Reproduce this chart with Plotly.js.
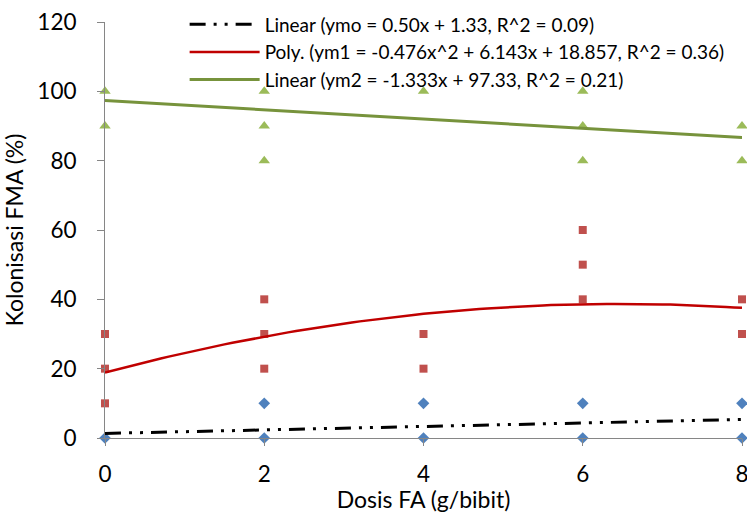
<!DOCTYPE html>
<html>
<head>
<meta charset="utf-8">
<script src="https://cdn.plot.ly/plotly-3.0.1.min.js"></script>
<style>html,body{margin:0;padding:0;background:#fff;}#chart{width:747px;height:513px;}</style>
</head>
<body>
<div id="chart"></div>
<script>
// Observed points (Dosis FA, g/bibit) vs Kolonisasi FMA (%)
const ymoX = [0, 2, 2, 4, 4, 6, 6, 8, 8];
const ymoY = [0, 0, 10, 0, 10, 0, 10, 0, 10];
const ym1X = [0, 0, 0, 2, 2, 2, 4, 4, 6, 6, 6, 8, 8];
const ym1Y = [10, 20, 30, 20, 30, 40, 20, 30, 40, 50, 60, 30, 40];
const ym2X = [0, 0, 2, 2, 2, 4, 6, 6, 6, 8, 8];
const ym2Y = [90, 100, 80, 90, 100, 100, 80, 90, 100, 80, 90];

// Trendline coefficients as printed in the legend (c0 + c1*x + c2*x^2)
const ymoCoef = [1.33, 0.50, 0];
const ym1Coef = [18.857, 6.143, -0.476];
const ym2Coef = [97.33, -1.333, 0];

const xTicks = [0, 2, 4, 6, 8];
const yTicks = [0, 20, 40, 60, 80, 100, 120];

const legendNames = [
  'Linear (ymo = 0.50x + 1.33, R^2 = 0.09)',
  'Poly. (ym1 = -0.476x^2 + 6.143x + 18.857, R^2 = 0.36)',
  'Linear (ym2 = -1.333x + 97.33, R^2 = 0.21)'
];

function trend(coef) {
  const xs = [], ys = [];
  for (let i = 0; i <= 80; i++) {
    const x = i / 10;
    xs.push(x);
    ys.push(coef[0] + coef[1] * x + coef[2] * x * x);
  }
  return {x: xs, y: ys};
}

const tMo = trend(ymoCoef), tM1 = trend(ym1Coef), tM2 = trend(ym2Coef);

const data = [
  {x: ymoX, y: ymoY, type: 'scatter', mode: 'markers', showlegend: false, cliponaxis: false,
   marker: {symbol: 'diamond', size: 9, color: '#4F81BD'}},
  {x: ym1X, y: ym1Y, type: 'scatter', mode: 'markers', showlegend: false, cliponaxis: false,
   marker: {symbol: 'square', size: 8, color: '#C0504D'}},
  {x: ym2X, y: ym2Y, type: 'scatter', mode: 'markers', showlegend: false, cliponaxis: false,
   marker: {symbol: 'triangle-up', size: 10, color: '#9BBB59'}},
  {x: tMo.x, y: tMo.y, type: 'scatter', mode: 'lines', name: legendNames[0],
   line: {color: '#000000', width: 3, dash: '16px,8px,3px,8px,3px,8px'}},
  {x: tM1.x, y: tM1.y, type: 'scatter', mode: 'lines', name: legendNames[1],
   line: {color: '#C00000', width: 2.5}},
  {x: tM2.x, y: tM2.y, type: 'scatter', mode: 'lines', name: legendNames[2],
   line: {color: '#77933C', width: 3}}
];

const layout = {
  width: 747, height: 513,
  margin: {l: 105, r: 5, t: 22, b: 75},
  paper_bgcolor: '#ffffff', plot_bgcolor: '#ffffff',
  font: {family: 'Lato, "Open Sans", sans-serif', color: '#000000'},
  showlegend: true,
  legend: {x: 0.125, y: 1.04, xanchor: 'left', yanchor: 'top', bgcolor: 'rgba(0,0,0,0)',
           font: {size: 19, color: '#000000'}, itemwidth: 70, tracegroupgap: 0},
  xaxis: {
    range: [0, 8], tickvals: xTicks, ticktext: xTicks.map(String),
    showgrid: false, zeroline: false, showline: true, linecolor: '#868686', linewidth: 1,
    ticks: 'outside', ticklen: 7, tickcolor: '#868686', ticklabelstandoff: 9,
    ticklabeloverflow: 'allow',
    tickfont: {size: 22.5}, title: {text: 'Dosis FA (g/bibit)', font: {size: 23}, standoff: 11}
  },
  yaxis: {
    range: [0, 120], tickvals: yTicks, ticktext: yTicks.map(String),
    showgrid: false, zeroline: false, showline: true, linecolor: '#868686', linewidth: 1,
    ticks: 'outside', ticklen: 7, tickcolor: '#868686', ticklabelstandoff: 16,
    ticklabeloverflow: 'allow',
    tickfont: {size: 22.5}, title: {text: 'Kolonisasi FMA (%)', font: {size: 23}, standoff: 12}
  }
};

Plotly.newPlot('chart', data, layout, {displayModeBar: false, staticPlot: true});
</script>
</body>
</html>
